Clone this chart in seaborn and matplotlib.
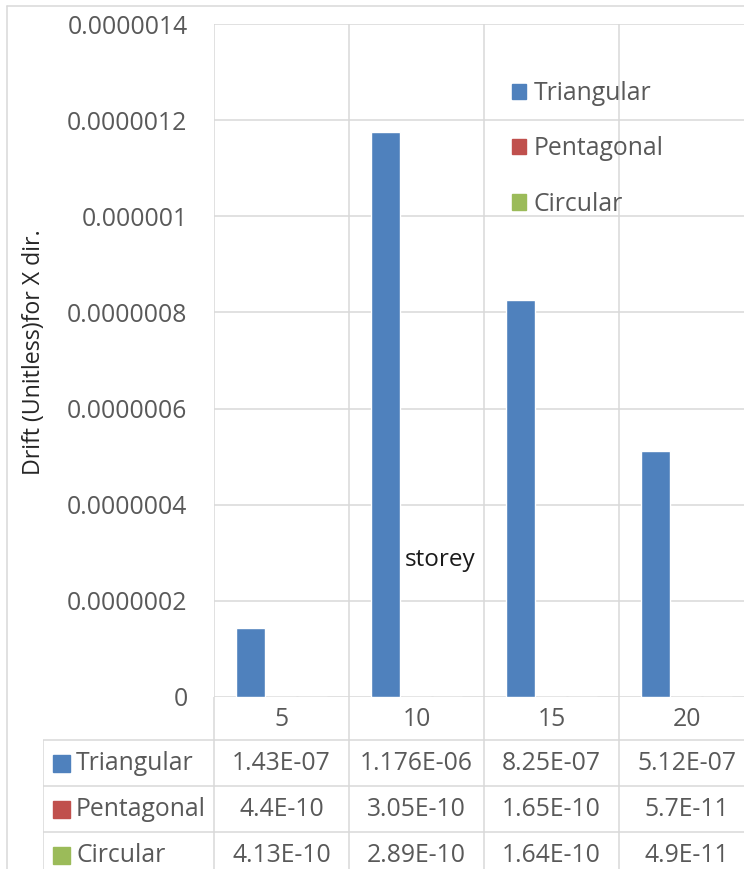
import numpy as np
import pandas as pd
import seaborn as sns
import matplotlib.pyplot as plt
from matplotlib.patches import Rectangle
from matplotlib.lines import Line2D
from matplotlib.ticker import MultipleLocator, FuncFormatter

# data
storeys = ['5', '10', '15', '20']
shapes = ['Triangular', 'Pentagonal', 'Circular']
triangular = [1.43e-07, 1.176e-06, 8.25e-07, 5.12e-07]
pentagonal = [4.4e-10, 3.05e-10, 1.65e-10, 5.7e-11]
circular = [4.13e-10, 2.89e-10, 1.64e-10, 4.9e-11]
colors = ['#4F81BD', '#C0504D', '#9BBB59']

series = [triangular, pentagonal, circular]
df = pd.DataFrame({
    'storey': storeys * len(shapes),
    'drift': triangular + pentagonal + circular,
    'shape': np.repeat(shapes, len(storeys)),
})

sns.set_style('white')
plt.rcParams['font.family'] = ['Open Sans', 'DejaVu Sans']

GRID = '#D9D9D9'
TXT = '#595959'
FS = 17.8
W, H = 744, 869


def box(l, t, r, b):
    return [l / W, 1 - b / H, (r - l) / W, (b - t) / H]


fig = plt.figure(figsize=(W / 100, H / 100), dpi=100)

# --- main chart ---
ax = fig.add_axes(box(214, 24, 754, 697))
sns.barplot(data=df, x='storey', y='drift', hue='shape', hue_order=shapes,
            palette=colors, saturation=1, width=0.69, gap=0.07,
            legend=False, ax=ax)
ax.set_xlim(-0.5, len(storeys) - 0.5)
ax.set_ylim(0, 1.4e-6)
ax.yaxis.set_major_locator(MultipleLocator(2e-7))
ax.yaxis.set_major_formatter(FuncFormatter(
    lambda v, _: f"{v:.7f}".rstrip('0').rstrip('.')))
ax.set_xticks(np.arange(-0.5, len(storeys), 1), minor=True)
ax.grid(axis='y', which='major', color=GRID, lw=1.1)
ax.grid(axis='x', which='minor', color=GRID, lw=1.1)
ax.tick_params(which='both', length=0)
ax.tick_params(axis='y', labelsize=FS, labelcolor=TXT, pad=19)
ax.tick_params(axis='x', labelsize=FS, labelcolor=TXT, pad=7)
for s in ax.spines.values():
    s.set_visible(False)
ax.set_xlabel('')
ax.set_ylabel('Drift (Unitless)for X dir.', fontsize=16.7, color='#262626',
              va='center')
ax.yaxis.set_label_coords(-0.333, 0.513)
ax.text(0.4185, 0.2036, 'storey', transform=ax.transAxes, ha='center',
        va='center', fontsize=17.5, color='#1a1a1a')

handles = [Rectangle((0, 0), 1, 1, color=c) for c in colors]
ax.legend(handles, shapes, loc='upper left', bbox_to_anchor=(502 / W, 1 - 71 / H),
          bbox_transform=fig.transFigure, frameon=False, fontsize=FS,
          labelcolor=TXT, handlelength=0.57, handleheight=0.57,
          handletextpad=0.32, labelspacing=1.23, borderaxespad=0)

# --- data table ---
tax = fig.add_axes(box(43, 697, 754, 869))
x_left = -0.5 - (214 - 43) / 135
tax.set_xlim(x_left, len(storeys) - 0.5)
tax.set_ylim(869, 697)
tax.axis('off')
row_h = 46
row_tops = [740 + row_h * i for i in range(len(shapes))]
tax.hlines(row_tops, x_left, len(storeys) - 0.5, color=GRID, lw=1.1)
tax.vlines([x_left], 740, 869, color=GRID, lw=1.1)
tax.vlines(np.arange(-0.5, len(storeys) - 0.5, 1), 697, 869, color=GRID, lw=1.1)

for i, (name, vals, c) in enumerate(zip(shapes, series, colors)):
    yc = row_tops[i] + row_h / 2
    tax.add_patch(Rectangle((x_left + 10 / 135, yc - 8.5), 17 / 135, 17, color=c))
    tax.text(x_left + 33 / 135, yc, name, ha='left', va='center',
             fontsize=FS, color=TXT)
    for j, v in enumerate(vals):
        lab = np.format_float_scientific(v, unique=True, exp_digits=2).upper()
        tax.text(j, yc, lab, ha='center', va='center', fontsize=FS, color=TXT)

# chart area border
fig.add_artist(Line2D([7 / W, 7 / W], [1 - 6 / H, 0], transform=fig.transFigure,
                      color=GRID, lw=1.1))
fig.add_artist(Line2D([7 / W, 1], [1 - 6 / H, 1 - 6 / H],
                      transform=fig.transFigure, color=GRID, lw=1.1))

fig.savefig('out.png', dpi=100)
